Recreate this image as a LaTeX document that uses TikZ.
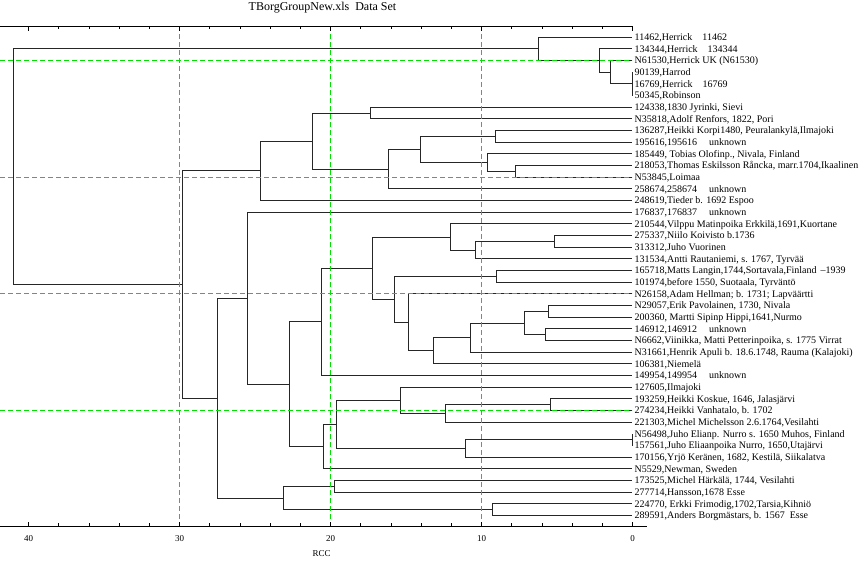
\documentclass[tikz,border=0pt]{standalone}
\usepackage{fontspec}
\setmainfont{Liberation Serif}
\definecolor{guidegreen}{RGB}{0,225,0}
\begin{document}
\begin{tikzpicture}[x=1pt,y=-1pt,
    leaf/.style={anchor=west,inner xsep=2.5pt,inner ysep=0pt,text height=7pt,text depth=0.4pt,font=\fontsize{10}{12}\selectfont},
    branch/.style={draw=black!85,line width=1pt},
    guide/.style={draw=guidegreen,line width=0.9pt,dash pattern=on 5pt off 3pt},
    axisline/.style={draw=black,line width=0.9pt},
    ticklabel/.style={anchor=base,inner sep=0pt,font=\fontsize{9}{11}\selectfont}]
      \useasboundingbox (0,0) rectangle (864,560);
      \node[anchor=base,inner sep=0pt,font=\fontsize{12}{14}\selectfont] (title) at (322.5,10) {TBorgGroupNew.xls\hspace{6pt}Data Set};
      \begin{scope}[y=-11.667pt,yshift=-25.533pt]
        \node[leaf] (11462) at (632,1) {11462,Herrick\hspace{10pt}11462};
        \node[leaf] (134344) at (632,2) {134344,Herrick\hspace{10pt}134344};
        \node[leaf] (N61530) at (632,3) {N61530,Herrick UK (N61530)};
        \node[leaf] (90139) at (632,4) {90139,Harrod};
        \node[leaf] (16769) at (632,5) {16769,Herrick\hspace{10pt}16769};
        \node[leaf] (50345) at (632,6) {50345,Robinson};
        \node[leaf] (124338) at (632,7) {124338,1830 Jyrinki, Sievi};
        \node[leaf] (N35818) at (632,8) {N35818,Adolf Renfors, 1822, Pori};
        \node[leaf] (136287) at (632,9) {136287,Heikki Korpi1480, Peuralankylä,Ilmajoki};
        \node[leaf] (195616) at (632,10) {195616,195616\hspace{12pt}unknown};
        \node[leaf] (185449) at (632,11) {185449, Tobias Olofinp., Nivala, Finland};
        \node[leaf] (218053) at (632,12) {218053,Thomas Eskilsson Råncka, marr.1704,Ikaalinen};
        \node[leaf] (N53845) at (632,13) {N53845,Loimaa};
        \node[leaf] (258674) at (632,14) {258674,258674\hspace{12pt}unknown};
        \node[leaf] (248619) at (632,15) {248619,Tieder b. 1692 Espoo};
        \node[leaf] (176837) at (632,16) {176837,176837\hspace{12pt}unknown};
        \node[leaf] (210544) at (632,17) {210544,Vilppu Matinpoika Erkkilä,1691,Kuortane};
        \node[leaf] (275337) at (632,18) {275337,Niilo Koivisto b.1736};
        \node[leaf] (313312) at (632,19) {313312,Juho Vuorinen};
        \node[leaf] (131534) at (632,20) {131534,Antti Rautaniemi, s. 1767, Tyrvää};
        \node[leaf] (165718) at (632,21) {165718,Matts Langin,1744,Sortavala,Finland\hspace{4pt}–1939};
        \node[leaf] (101974) at (632,22) {101974,before 1550, Suotaala, Tyrväntö};
        \node[leaf] (N26158) at (632,23) {N26158,Adam Hellman; b. 1731; Lapväärtti};
        \node[leaf] (N29057) at (632,24) {N29057,Erik Pavolainen, 1730, Nivala};
        \node[leaf] (200360) at (632,25) {200360, Martti Sipinp Hippi,1641,Nurmo};
        \node[leaf] (146912) at (632,26) {146912,146912\hspace{12pt}unknown};
        \node[leaf] (N6662) at (632,27) {N6662,Viinikka, Matti Petterinpoika, s. 1775 Virrat};
        \node[leaf] (N31661) at (632,28) {N31661,Henrik Apuli b. 18.6.1748, Rauma (Kalajoki)};
        \node[leaf] (106381) at (632,29) {106381,Niemelä};
        \node[leaf] (149954) at (632,30) {149954,149954\hspace{12pt}unknown};
        \node[leaf] (127605) at (632,31) {127605,Ilmajoki};
        \node[leaf] (193259) at (632,32) {193259,Heikki Koskue, 1646, Jalasjärvi};
        \node[leaf] (274234) at (632,33) {274234,Heikki Vanhatalo, b. 1702};
        \node[leaf] (221303) at (632,34) {221303,Michel Michelsson 2.6.1764,Vesilahti};
        \node[leaf] (N56498) at (632,35) {N56498,Juho Elianp. Nurro s. 1650 Muhos, Finland};
        \node[leaf] (157561) at (632,36) {157561,Juho Eliaanpoika Nurro, 1650,Utajärvi};
        \node[leaf] (170156) at (632,37) {170156,Yrjö Keränen, 1682, Kestilä, Siikalatva};
        \node[leaf] (N5529) at (632,38) {N5529,Newman, Sweden};
        \node[leaf] (173525) at (632,39) {173525,Michel Härkälä, 1744, Vesilahti};
        \node[leaf] (277714) at (632,40) {277714,Hansson,1678 Esse};
        \node[leaf] (224770) at (632,41) {224770, Erkki Frimodig,1702,Tarsia,Kihniö};
        \node[leaf] (289591) at (632,42) {289591,Anders Borgmästars, b. 1567\hspace{5pt}Esse};
        \coordinate (t1) at (632,5);
        \coordinate (t2) at (610,4);
        \coordinate (t3) at (599,3);
        \coordinate (t4) at (538.3,2);
        \coordinate (a1) at (370.7,7.5);
        \coordinate (a2) at (495.5,9.5);
        \coordinate (a3) at (515.5,12.5);
        \coordinate (a4) at (487.3,11.75);
        \coordinate (a5) at (420,10.625);
        \coordinate (a6) at (388.7,12.3125);
        \coordinate (a7) at (312.7,9.906);
        \coordinate (a8) at (260.7,12.453);
        \coordinate (b1) at (554.7,18.5);
        \coordinate (b2) at (475.7,19.25);
        \coordinate (b3) at (450.7,18.125);
        \coordinate (b4) at (496.3,21.5);
        \coordinate (b5) at (548.3,24.5);
        \coordinate (b6) at (545.5,26.5);
        \coordinate (b7) at (524.3,25.5);
        \coordinate (b8) at (470,26.75);
        \coordinate (b9) at (433,27.875);
        \coordinate (b10) at (408.7,25.4375);
        \coordinate (b11) at (394.3,23.469);
        \coordinate (b12) at (372.3,20.797);
        \coordinate (b13) at (321.7,25.398);
        \coordinate (d1) at (550.3,32.5);
        \coordinate (d2) at (445.7,33.25);
        \coordinate (d3) at (400.7,32.125);
        \coordinate (d4) at (632,35.5);
        \coordinate (d5) at (465.3,36.25);
        \coordinate (d6) at (336,34.1875);
        \coordinate (d7) at (323.2,36.094);
        \coordinate (b14) at (289.3,30.746);
        \coordinate (b15) at (247,23.373);
        \coordinate (e1) at (334.2,39.5);
        \coordinate (e2) at (492.2,41.5);
        \coordinate (e3) at (283.7,40.5);
        \coordinate (b16) at (217.3,31.94);
        \coordinate (r1) at (182.7,22.19);
        \coordinate (root) at (13.3,12.1);
        \begin{scope}[branch]
          \draw (t1) |- (90139) (t1) |- (16769) (t1) |- (50345);
          \draw (t2) |- (N61530) (t2) |- (t1);
          \draw (t3) |- (134344) (t3) |- (t2);
          \draw (t4) |- (11462) (t4) |- (t3);
          \draw (a1) |- (124338) (a1) |- (N35818);
          \draw (a2) |- (136287) (a2) |- (195616);
          \draw (a3) |- (218053) (a3) |- (N53845);
          \draw (a4) |- (185449) (a4) |- (a3);
          \draw (a5) |- (a2) (a5) |- (a4);
          \draw (a6) |- (a5) (a6) |- (258674);
          \draw (a7) |- (a1) (a7) |- (a6);
          \draw (a8) |- (a7) (a8) |- (248619);
          \draw (b1) |- (275337) (b1) |- (313312);
          \draw (b2) |- (b1) (b2) |- (131534);
          \draw (b3) |- (210544) (b3) |- (b2);
          \draw (b4) |- (165718) (b4) |- (101974);
          \draw (b5) |- (N29057) (b5) |- (200360);
          \draw (b6) |- (146912) (b6) |- (N6662);
          \draw (b7) |- (b5) (b7) |- (b6);
          \draw (b8) |- (b7) (b8) |- (N31661);
          \draw (b9) |- (b8) (b9) |- (106381);
          \draw (b10) |- (N26158) (b10) |- (b9);
          \draw (b11) |- (b4) (b11) |- (b10);
          \draw (b12) |- (b3) (b12) |- (b11);
          \draw (b13) |- (b12) (b13) |- (149954);
          \draw (d1) |- (193259) (d1) |- (274234);
          \draw (d2) |- (d1) (d2) |- (221303);
          \draw (d3) |- (127605) (d3) |- (d2);
          \draw (d4) |- (N56498) (d4) |- (157561);
          \draw (d5) |- (d4) (d5) |- (170156);
          \draw (d6) |- (d3) (d6) |- (d5);
          \draw (d7) |- (d6) (d7) |- (N5529);
          \draw (b14) |- (b13) (b14) |- (d7);
          \draw (b15) |- (176837) (b15) |- (b14);
          \draw (e1) |- (173525) (e1) |- (277714);
          \draw (e2) |- (224770) (e2) |- (289591);
          \draw (e3) |- (e1) (e3) |- (e2);
          \draw (b16) |- (b15) (b16) |- (e3);
          \draw (r1) |- (a8) (r1) |- (b16);
          \draw (root) |- (t4) (root) |- (r1);
        \end{scope}
        \draw[guide] (0,3) -- (632,3);
        \draw[guide] (0,13) -- (632,13);
        \draw[guide] (0,23) -- (632,23);
        \draw[guide] (0,33) -- (632,33);
      \end{scope}
      \draw[guide] (179.7,26) -- (179.7,526);
      \draw[guide] (330.7,26) -- (330.7,526);
      \draw[guide] (481.7,26) -- (481.7,526);
      \draw[axisline] (0,26) -- (632.7,26);
      \draw[axisline] (0,526) -- (647,526);
      \foreach \v in {0,2,...,40}
        \draw[axisline] ({632.7-15.1*\v},26) -- ++(0,3) ({632.7-15.1*\v},526) -- ++(0,-3);
      \foreach \v in {0,10,...,40}
        \draw[axisline] ({632.7-15.1*\v},26) -- ++(0,4.5) ({632.7-15.1*\v},526) -- ++(0,-4.5);
      \node[ticklabel] (x40) at (28.7,541.5) {40};
      \node[ticklabel] (x30) at (179.7,541.5) {30};
      \node[ticklabel] (x20) at (330.7,541.5) {20};
      \node[ticklabel] (x10) at (481.7,541.5) {10};
      \node[ticklabel] (x0) at (632.7,541.5) {0};
      \node[ticklabel] (rcc) at (321.5,556) {RCC};
    \end{tikzpicture}
\end{document}
